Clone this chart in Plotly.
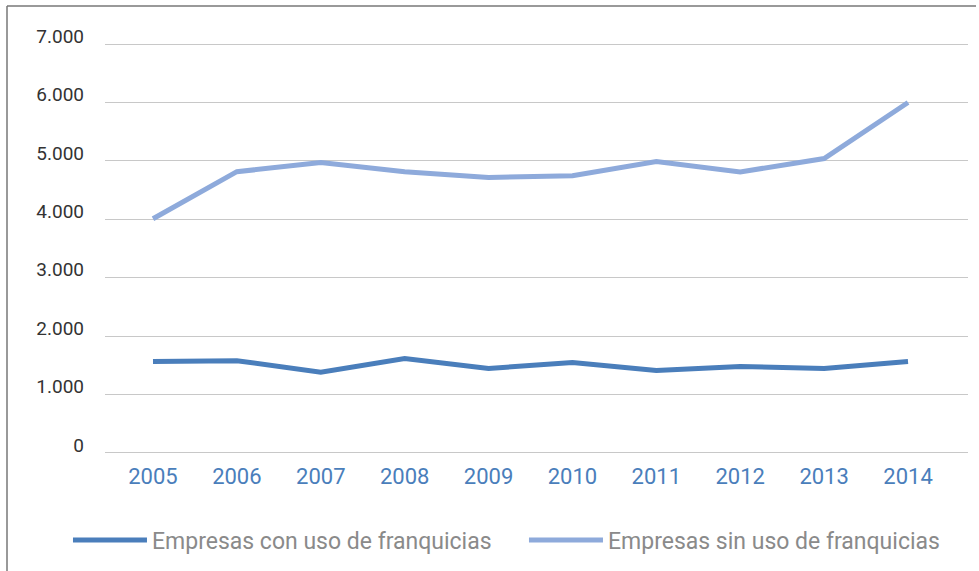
import plotly.graph_objects as go

years = ["2005", "2006", "2007", "2008", "2009", "2010", "2011", "2012", "2013", "2014"]
con_franquicias = [1567, 1580, 1383, 1618, 1446, 1549, 1411, 1480, 1446, 1566]
sin_franquicias = [4010, 4815, 4970, 4815, 4716, 4745, 4990, 4811, 5040, 6000]
y_ticks = [0, 1000, 2000, 3000, 4000, 5000, 6000, 7000]
y_tick_labels = ["0", "1.000", "2.000", "3.000", "4.000", "5.000", "6.000", "7.000"]
names = ["Empresas con uso de franquicias", "Empresas sin uso de franquicias"]

fig = go.Figure()
fig.add_trace(go.Scatter(x=list(range(len(years))), y=con_franquicias, mode="lines",
                         name=names[0], line=dict(color="#4a7ebb", width=5)))
fig.add_trace(go.Scatter(x=list(range(len(years))), y=sin_franquicias, mode="lines",
                         name=names[1], line=dict(color="#8eaadb", width=5)))

H = 413  # plot height in px
fig.update_layout(
    width=979, height=571,
    margin=dict(l=105, r=11, t=42, b=116, autoexpand=False),
    plot_bgcolor="white", paper_bgcolor="white",
    font=dict(family="Roboto", size=20),
    showlegend=True,
    legend=dict(orientation="h", x=-0.0429, xanchor="left", y=(455 - 540) / H, yanchor="middle",
                itemwidth=74, entrywidth=367, entrywidthmode="pixels",
                font=dict(size=23, color="#8a8a8a", family="Roboto"),
                bgcolor="rgba(0,0,0,0)", traceorder="normal"),
    xaxis=dict(tickmode="array", tickvals=list(range(len(years))), ticktext=years,
               range=[-0.572, 9.715], showgrid=False, zeroline=False, showline=False,
               ticks="", tickfont=dict(size=22, color="#4a7ebb"), ticklabelstandoff=6,
               automargin=False),
    yaxis=dict(tickmode="array", tickvals=y_ticks, ticktext=y_tick_labels,
               range=[-35, 7035], showgrid=True, gridcolor="#c8c8c8", gridwidth=1,
               zeroline=False, showline=False, ticks="",
               tickfont=dict(size=19, color="#333333"), ticklabelstandoff=20,
               ticklabelshift=-8, automargin=False),
    shapes=[
        dict(type="line", xref="paper", yref="paper", x0=(7 - 105) / 863, x1=(7 - 105) / 863,
             y0=(455 - 6) / H, y1=(455 - 575) / H, line=dict(color="#777777", width=1.5)),
        dict(type="line", xref="paper", yref="paper", x0=(7 - 105) / 863, x1=(976 - 105) / 863,
             y0=(455 - 6) / H, y1=(455 - 6) / H, line=dict(color="#777777", width=1.5)),
    ],
)

fig.write_html("out.html", config={"displayModeBar": False},
               post_script="document.body.style.margin='0';")
